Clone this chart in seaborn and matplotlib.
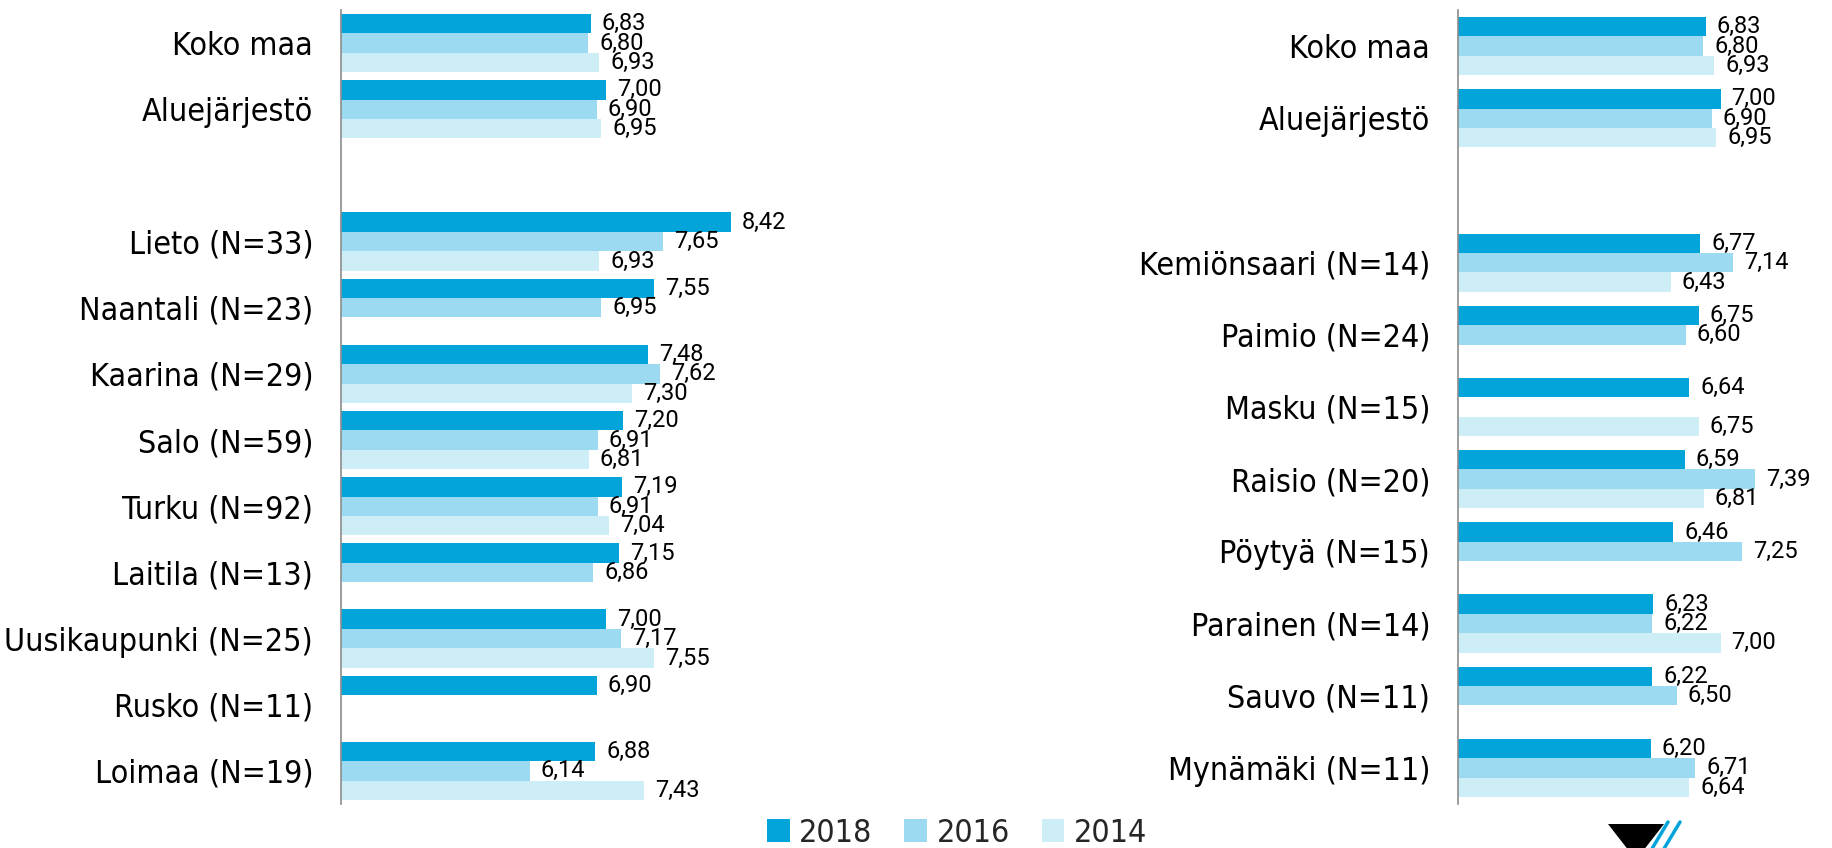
import numpy as np
import pandas as pd
import seaborn as sns
import matplotlib.pyplot as plt
from matplotlib.patches import Patch, Polygon
from matplotlib.lines import Line2D

sns.set_style("white")

years = ["2018", "2016", "2014"]
colors = ["#02A4DA", "#9BDAF1", "#CDEDF7"]

left_labels = ["Koko maa", "Aluejärjestö", "", "Lieto (N=33)", "Naantali (N=23)",
               "Kaarina (N=29)", "Salo (N=59)", "Turku (N=92)", "Laitila (N=13)",
               "Uusikaupunki (N=25)", "Rusko (N=11)", "Loimaa (N=19)"]
left_2018 = [6.83, 7.00, np.nan, 8.42, 7.55, 7.48, 7.20, 7.19, 7.15, 7.00, 6.90, 6.88]
left_2016 = [6.80, 6.90, np.nan, 7.65, 6.95, 7.62, 6.91, 6.91, 6.86, 7.17, np.nan, 6.14]
left_2014 = [6.93, 6.95, np.nan, 6.93, np.nan, 7.30, 6.81, 7.04, np.nan, 7.55, np.nan, 7.43]

right_labels = ["Koko maa", "Aluejärjestö", "", "Kemiönsaari (N=14)", "Paimio (N=24)",
                "Masku (N=15)", "Raisio (N=20)", "Pöytyä (N=15)", "Parainen (N=14)",
                "Sauvo (N=11)", "Mynämäki (N=11)"]
right_2018 = [6.83, 7.00, np.nan, 6.77, 6.75, 6.64, 6.59, 6.46, 6.23, 6.22, 6.20]
right_2016 = [6.80, 6.90, np.nan, 7.14, 6.60, np.nan, 7.39, 7.25, 6.22, 6.50, 6.71]
right_2014 = [6.93, 6.95, np.nan, 6.43, np.nan, 6.75, 6.81, np.nan, 7.00, np.nan, 6.64]

value_font = ["Roboto", "DejaVu Sans"]


def make_df(labels, a, b, c):
    rows = []
    for lab, v1, v2, v3 in zip(labels, a, b, c):
        for yr, v in zip(years, (v1, v2, v3)):
            if not np.isnan(v):
                rows.append({"label": lab, "year": yr, "value": v})
    return pd.DataFrame(rows)


W, H = 1832, 848
fig = plt.figure(figsize=(W / 100, H / 100), dpi=100)

top_px, bot_px = 10, 804
ax_l = fig.add_axes([341 / W, (H - bot_px) / H, 441 / W, (bot_px - top_px) / H])
ax_r = fig.add_axes([1458 / W, (H - bot_px) / H, 350 / W, (bot_px - top_px) / H])

panels = [
    (ax_l, left_labels, left_2018, left_2016, left_2014, 0.88, (4, 9)),
    (ax_r, right_labels, right_2018, right_2016, right_2014, 0.806, (4, 8)),
]

for ax, labels, a, b, c, width, xlim in panels:
    df = make_df(labels, a, b, c)
    sns.barplot(data=df, y="label", x="value", hue="year", order=labels,
                hue_order=years, palette=colors, saturation=1, orient="h",
                width=width, errorbar=None, linewidth=0, ax=ax, legend=False)
    ax.set_xlim(*xlim)
    ax.set_ylim(len(labels) - 0.5, -0.5)
    ax.set_xlabel("")
    ax.set_ylabel("")
    ax.set_xticks([])
    for s in ["top", "right", "bottom"]:
        ax.spines[s].set_visible(False)
    ax.spines["left"].set_color("#8c8c8c")
    ax.spines["left"].set_linewidth(1.2)
    ax.tick_params(axis="y", length=0, pad=20)
    for t in ax.get_yticklabels():
        t.set_fontsize(23)
        t.set_family("DejaVu Sans")
        t.set_stretch("condensed")
        t.set_color("black")
    for cont in ax.containers:
        ax.bar_label(cont, fmt=lambda v: f"{v:.2f}".replace(".", ","),
                     padding=8, fontsize=17, family=value_font, color="black",
                     clip_on=False)

handles = [Patch(facecolor=col, edgecolor="none") for col in colors]
fig.legend(handles, years, loc="center", bbox_to_anchor=(957 / W, 1 - 833 / H),
           ncol=3, frameon=False, handlelength=0.7, handleheight=0.7,
           handletextpad=0.3, columnspacing=1.0,
           prop={"family": "DejaVu Sans", "stretch": "condensed", "size": 23})

# partial logo at bottom right
fig.patches.append(Polygon([[1608 / W, 1 - 824 / H], [1664 / W, 1 - 824 / H],
                            [1636 / W, 1 - 860 / H]], closed=True,
                           transform=fig.transFigure, facecolor="black",
                           edgecolor="none"))
for dx in (0, 12):
    fig.lines.append(Line2D([(1668 + dx) / W, (1650 + dx) / W],
                            [1 - 822 / H, 1 - 852 / H],
                            transform=fig.transFigure, color="#02A4DA", lw=2.5))

fig.savefig("out.png", dpi=100)
